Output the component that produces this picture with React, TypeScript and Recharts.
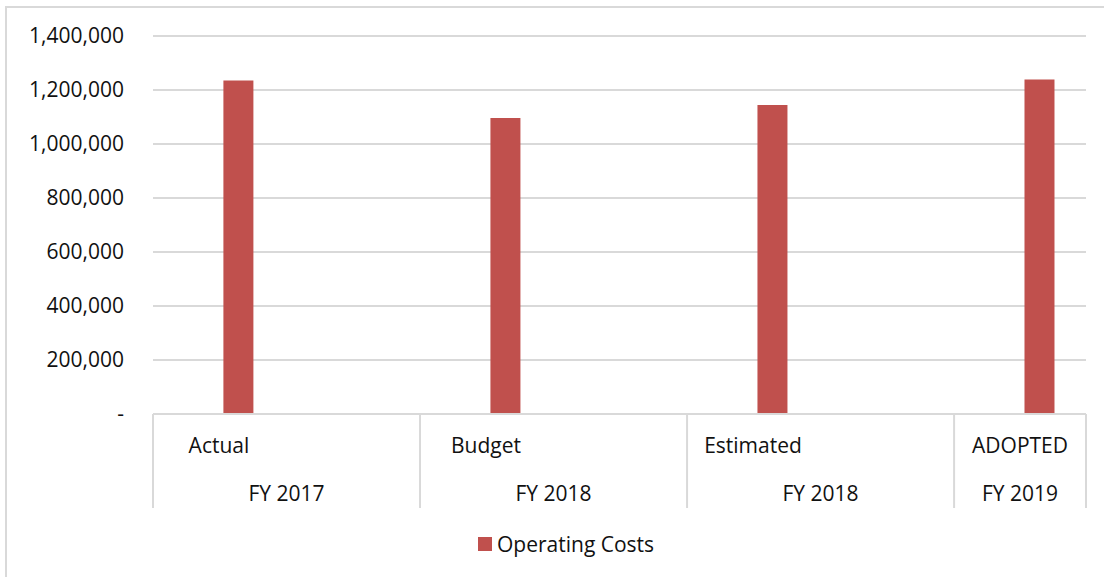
import { Bar, BarChart, CartesianGrid, XAxis, YAxis } from 'recharts'

const categories = ['Actual', 'Budget', 'Estimated', 'ADOPTED']
const fiscalYears = ['FY 2017', 'FY 2018', 'FY 2018', 'FY 2019']
const operatingCosts = [1235000, 1096000, 1144000, 1239000]
const yTicks = [0, 200000, 400000, 600000, 800000, 1000000, 1200000, 1400000]
const seriesName = 'Operating Costs'

const data = categories.map((name, i) => ({
  idx: i,
  name,
  fy: fiscalYears[i],
  cost: operatingCosts[i],
}))

const FONT = "'Open Sans', 'Noto Sans', sans-serif"
const GRID = '#d9d9d9'
const BAR = '#c0504d'

// excel puts the group boundaries off-centre, so the x axis is numeric
const X_MIN = -0.318
const X_MAX = 3.176
const PLOT_W = 933
const UNIT = PLOT_W / (X_MAX - X_MIN)

function CategoryTick(props: any) {
  const { x, y, payload } = props
  const i = payload.value as number
  const left = x - 0.318 * UNIT
  const right = i === categories.length - 1 ? x + (X_MAX - i) * UNIT : left + UNIT
  return (
    <g>
      <line x1={left} y1={y} x2={left} y2={y + 94} stroke={GRID} strokeWidth={2} />
      {i === categories.length - 1 && (
        <line x1={right} y1={y} x2={right} y2={y + 94} stroke={GRID} strokeWidth={2} />
      )}
      <text
        x={x - 0.071 * UNIT}
        y={y + 31}
        textAnchor='middle'
        dominantBaseline='central'
        fontFamily={FONT}
        fontSize={21}
        fill='#111'
      >
        {categories[i]}
      </text>
      <text
        x={(left + right) / 2}
        y={y + 79}
        textAnchor='middle'
        dominantBaseline='central'
        fontFamily={FONT}
        fontSize={21}
        fill='#111'
      >
        {fiscalYears[i]}
      </text>
    </g>
  )
}

export default function App() {
  return (
    <div style={{ position: 'absolute', left: 0, top: 0, width: 1104, height: 577, overflow: 'hidden', background: '#fff' }}>
      <div
        style={{
          position: 'absolute',
          left: 5,
          top: 6,
          width: 1120,
          height: 600,
          border: `2px solid ${GRID}`,
          boxSizing: 'border-box',
        }}
      />
      <div style={{ position: 'absolute', left: 0, top: 0 }}>
        <BarChart
          width={1104}
          height={577}
          data={data}
          margin={{ top: 36, right: 18, left: 0, bottom: 68 }}
        >
          <CartesianGrid vertical={false} stroke={GRID} strokeWidth={2} />
          <XAxis
            dataKey='idx'
            type='number'
            domain={[X_MIN, X_MAX]}
            ticks={[0, 1, 2, 3]}
            allowDataOverflow
            height={95}
            tickLine={false}
            tickSize={0}
            tickMargin={0}
            axisLine={{ stroke: GRID, strokeWidth: 2 }}
            tick={<CategoryTick />}
            interval={0}
          />
          <YAxis
            width={153}
            domain={[0, 1400000]}
            ticks={yTicks}
            interval={0}
            axisLine={false}
            tickLine={false}
            tickSize={0}
            tickMargin={29}
            tick={{ fontFamily: FONT, fontSize: 21, fill: '#111' }}
            tickFormatter={(v: number) => (v === 0 ? '-' : v.toLocaleString('en-US'))}
          />
          <Bar dataKey='cost' name={seriesName} fill={BAR} barSize={30} isAnimationActive={false} />
        </BarChart>
      </div>
      <div
        style={{
          position: 'absolute',
          left: 478,
          top: 530,
          display: 'flex',
          alignItems: 'center',
          fontFamily: FONT,
          fontSize: 21,
          color: '#111',
        }}
      >
        <span style={{ width: 14, height: 14, background: BAR, marginRight: 5, display: 'inline-block' }} />
        <span>{seriesName}</span>
      </div>
    </div>
  )
}
